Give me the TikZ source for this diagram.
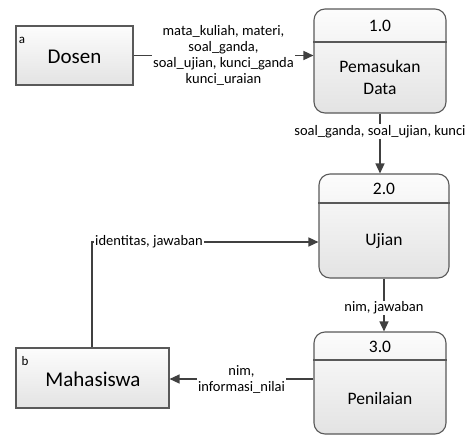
\documentclass[tikz,border=0pt]{standalone}
\usepackage{fontspec}
\setmainfont{Carlito}
\usetikzlibrary{arrows.meta,calc}
\definecolor{edgecol}{HTML}{404040}
\definecolor{boxline}{HTML}{595959}
\begin{document}
\begin{tikzpicture}[x=1pt,y=-1pt,
  entbox/.style={draw=boxline, line width=1.1pt, top color=black!1, bottom color=black!11, inner sep=0pt},
  procbox/.style={entbox, rounded corners=11pt, minimum width=132pt, minimum height=104pt},
  flow/.style={draw=edgecol, line width=1.4pt, -{Triangle[length=10pt,width=9pt]}},
  lbl/.style={fill=white, inner sep=1pt, font=\fontsize{14.5}{16}\selectfont, align=center},
  bigtxt/.style={font=\fontsize{21}{24}\selectfont},
  ptxt/.style={font=\fontsize{17.5}{22}\selectfont, align=center},
  tagtxt/.style={font=\fontsize{13}{15}\selectfont}]
\clip (0,0) rectangle (474,434);

% external entities
\node[entbox, minimum width=117pt, minimum height=59pt] (dosen) at (74.5,55.5) {};
\node[bigtxt] (dosentxt) at (74.5,57) {Dosen};
\node[tagtxt] (taga) at (22,40) {a};

\node[entbox, minimum width=153pt, minimum height=60pt] (mhs) at (92.5,378) {};
\node[bigtxt] (mhstxt) at (93,379) {Mahasiswa};
\node[tagtxt] (tagb) at (25,361) {b};

% processes
\node[procbox] (p1) at (380,61) {};
\draw[boxline, line width=1.1pt] (p1.west |- 0,42) -- (p1.east |- 0,42);
\node[ptxt] (p1num) at (380,25.5) {1.0};
\node[ptxt] (p1name) at (380,77) {Pemasukan\\Data};

\node[procbox, minimum width=130pt] (p2) at (384,226) {};
\draw[boxline, line width=1.1pt] (p2.west |- 0,203) -- (p2.east |- 0,203);
\node[ptxt] (p2num) at (384,189) {2.0};
\node[ptxt] (p2name) at (384,241) {Ujian};

\node[procbox, minimum height=102pt] (p3) at (380,383) {};
\draw[boxline, line width=1.1pt] (p3.west |- 0,360) -- (p3.east |- 0,360);
\node[ptxt] (p3num) at (380,346.5) {3.0};
\node[ptxt] (p3name) at (380,398) {Penilaian};

% flows
\draw[flow] (dosen.east) -- (dosen.east -| p1.west)
  node[lbl, midway] (l1) {mata\_kuliah, materi,\\soal\_ganda,\\soal\_ujian, kunci\_ganda\\kunci\_uraian};

\draw[flow] (p1.south) -- (p1.south |- p2.north)
  node[lbl, pos=0.3] (l2) {soal\_ganda, soal\_ujian, kunci};

\coordinate (bend) at (92,242);
\draw[flow] (mhs.north -| bend) -- (bend) -- (bend -| p2.west);
\node[lbl, anchor=west] (l3) at (94,242) {identitas, jawaban};

\draw[flow] (p2.south) -- (p2.south |- p3.north);
\node[lbl] (l4) at (384,308) {nim, jawaban};

\draw[flow] (p3.west |- 0,379) -- (mhs.east |- 0,379)
  node[lbl, midway] (l5) {nim,\\informasi\_nilai};
\end{tikzpicture}
\end{document}
